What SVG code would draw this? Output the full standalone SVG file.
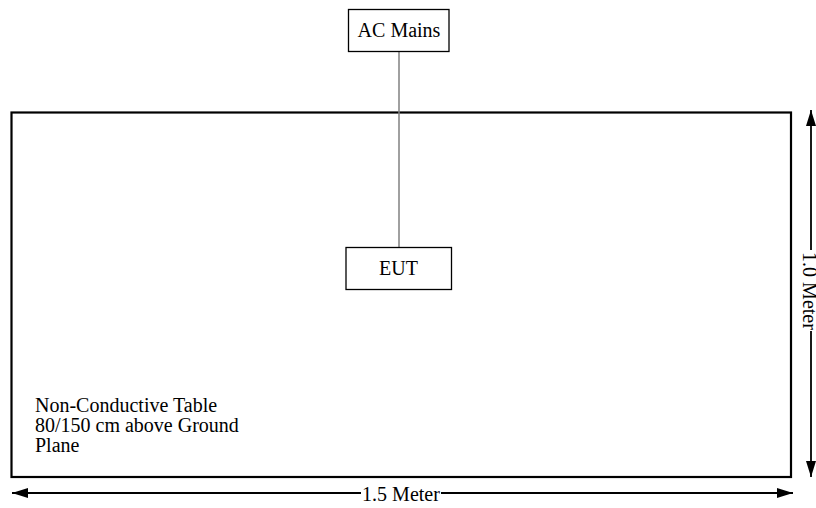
<svg xmlns="http://www.w3.org/2000/svg" width="816" height="508" viewBox="0 0 816 508">
<style>
  text { font-family: "Liberation Serif", "Times New Roman", serif; font-size: 20px; fill: #000; }
  .box { fill: #fff; stroke: #000; stroke-width: 1.3; }
  .table { fill: none; stroke: #000; stroke-width: 2.2; }
  .dim { stroke: #000; stroke-width: 1.8; fill: none; }
  .wire { stroke: #808080; stroke-width: 1.5; fill: none; }
</style>
<defs>
  <marker id="arr" markerUnits="userSpaceOnUse" markerWidth="18" markerHeight="12" refX="16" refY="5" orient="auto-start-reverse" viewBox="0 0 18 10">
    <path d="M0,0 L16,5 L0,10 Z" fill="#000"/>
  </marker>
</defs>
<g id="table">
  <rect class="table" x="11.5" y="112.5" width="779.5" height="364.5"/>
  <text x="35" y="412" font-size="20.3">Non-Conductive Table</text>
  <text x="35" y="432" font-size="20.3">80/150 cm above Ground</text>
  <text x="35" y="452" font-size="20.3">Plane</text>
</g>
<g id="connectors">
  <line class="wire" x1="399" y1="51.5" x2="399" y2="247.5"/>
</g>
<g id="ac-mains">
  <rect class="box" x="348.5" y="9.5" width="100.5" height="42"/>
  <text x="399" y="37" text-anchor="middle">AC Mains</text>
</g>
<g id="eut">
  <rect class="box" x="346" y="247.5" width="105.5" height="42"/>
  <text x="398.5" y="275" text-anchor="middle">EUT</text>
</g>
<g id="dim-height">
  <line class="dim" x1="811" y1="250" x2="811" y2="110" marker-end="url(#arr)"/>
  <line class="dim" x1="811" y1="331" x2="811" y2="477" marker-end="url(#arr)"/>
  <text x="802.5" y="291" text-anchor="middle" transform="rotate(90 802.5 291)">1.0 Meter</text>
</g>
<g id="dim-width">
  <line class="dim" x1="361" y1="493" x2="12" y2="493" marker-end="url(#arr)"/>
  <line class="dim" x1="441" y1="493" x2="793" y2="493" marker-end="url(#arr)"/>
  <text x="401" y="501" text-anchor="middle">1.5 Meter</text>
</g>
</svg>
